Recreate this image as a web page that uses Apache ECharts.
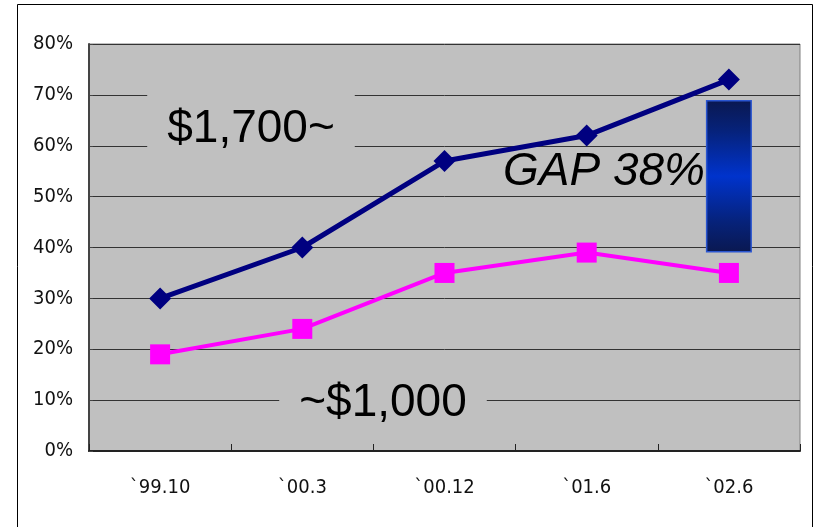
<!DOCTYPE html>
<html>
<head>
<meta charset="utf-8">
<script src="https://cdn.jsdelivr.net/npm/echarts@6/dist/echarts.min.js"></script>
<style>
  html, body { margin: 0; padding: 0; background: #fff; }
  #main { width: 817px; height: 527px; }
</style>
</head>
<body>
<div id="main"></div>
<script>
var categories = ['`99.10', '`00.3', '`00.12', '`01.6', '`02.6'];
var highIncome = [30, 40, 57, 62, 73];
var lowIncome = [19, 24, 35, 39, 35];
// gap bar on the last category: base and height (%)
var gapBase = [null, null, null, null, 39];
var gapHeight = [null, null, null, null, 30];

var chart = echarts.init(document.getElementById('main'));

var labelFont = '"DejaVu Sans Condensed", "Liberation Sans", sans-serif';

var option = {
  animation: false,
  backgroundColor: '#fff',
  grid: {
    left: 89,
    right: 17,
    top: 44,
    bottom: 76,
    show: true,
    backgroundColor: '#c0c0c0',
    borderColor: '#808080',
    borderWidth: 1
  },
  xAxis: {
    type: 'category',
    data: categories,
    boundaryGap: true,
    axisLine: { lineStyle: { color: '#222', width: 2 } },
    axisTick: { show: true, inside: true, length: 7, lineStyle: { color: '#222' } },
    axisLabel: { color: '#111', fontSize: 20, fontFamily: labelFont, margin: 27 }
  },
  yAxis: {
    type: 'value',
    min: 0,
    max: 80,
    interval: 10,
    axisLine: { show: true, lineStyle: { color: '#444', width: 2 } },
    axisTick: { show: true, inside: true, length: 4, lineStyle: { color: '#444' } },
    axisLabel: { color: '#111', fontSize: 20, fontFamily: labelFont, margin: 16, formatter: '{value}%' },
    splitLine: { lineStyle: { color: '#333', width: 1 } }
  },
  series: [
    {
      name: 'base',
      type: 'bar',
      stack: 'gap',
      data: gapBase,
      barWidth: 46,
      itemStyle: { color: 'transparent' },
      silent: true
    },
    {
      name: 'gap',
      type: 'bar',
      stack: 'gap',
      data: gapHeight,
      barWidth: 46,
      itemStyle: {
        color: new echarts.graphic.LinearGradient(0, 0, 0, 1, [
          { offset: 0, color: '#0a1850' },
          { offset: 0.2, color: '#06227a' },
          { offset: 0.5, color: '#0033cc' },
          { offset: 0.8, color: '#06227a' },
          { offset: 1, color: '#0a1850' }
        ]),
        borderColor: '#2a55d0',
        borderWidth: 1.5
      }
    },
    {
      name: 'high',
      type: 'line',
      data: highIncome,
      symbol: 'diamond',
      symbolSize: 22,
      lineStyle: { color: '#000080', width: 5 },
      itemStyle: { color: '#000080' },
      z: 5
    },
    {
      name: 'low',
      type: 'line',
      data: lowIncome,
      symbol: 'rect',
      symbolSize: 20,
      lineStyle: { color: '#ff00ff', width: 4 },
      itemStyle: { color: '#ff00ff' },
      z: 5
    }
  ],
  graphic: [
    {
      type: 'rect',
      shape: { x: 17.5, y: 4.5, width: 795, height: 540 },
      style: { fill: null, stroke: '#000', lineWidth: 1 },
      z: -10,
      silent: true
    },
    {
      type: 'text',
      x: 251, y: 129,
      style: {
        text: '$1,700~',
        fontFamily: 'Liberation Sans, Arial, sans-serif',
        fontSize: 46,
        fill: '#000',
        align: 'center',
        verticalAlign: 'middle',
        backgroundColor: '#c0c0c0',
        padding: [12, 20, 12, 20]
      },
      z: 10
    },
    {
      type: 'text',
      x: 383, y: 403,
      style: {
        text: '~$1,000',
        fontFamily: 'Liberation Sans, Arial, sans-serif',
        fontSize: 46,
        fill: '#000',
        align: 'center',
        verticalAlign: 'middle',
        backgroundColor: '#c0c0c0',
        padding: [6, 20, 6, 20]
      },
      z: 10
    },
    {
      type: 'text',
      x: 604, y: 172,
      style: {
        text: 'GAP 38%',
        fontFamily: 'Liberation Sans, Arial, sans-serif',
        fontStyle: 'italic',
        fontSize: 46,
        fill: '#000',
        align: 'center',
        verticalAlign: 'middle'
      },
      z: 10
    }
  ]
};

chart.setOption(option);
</script>
</body>
</html>
